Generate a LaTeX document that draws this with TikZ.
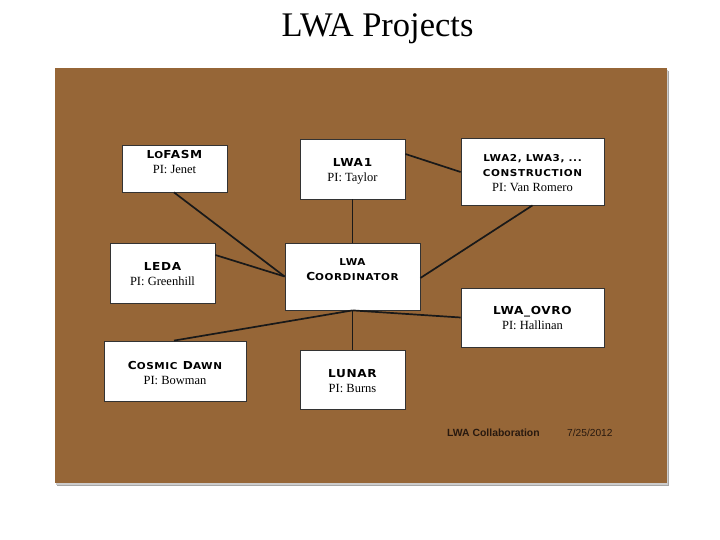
\documentclass[tikz,border=0pt]{standalone}
\usepackage{fontspec}
\setmainfont{Liberation Serif}
\newfontfamily\hdrfont{DejaVu Sans}[LetterSpace=6,FakeStretch=1.1]
\newfontfamily\footfont{Liberation Sans}
\newcommand{\bigc}[1]{{\fontsize{11}{13}\selectfont #1}}
\newcommand{\smc}[1]{{\fontsize{9.5}{11}\selectfont #1}}
\definecolor{bgbrown}{RGB}{150,102,55}
\definecolor{footc}{RGB}{40,25,15}
\begin{document}
\begin{tikzpicture}[x=1pt,y=-1pt,
  box/.style={draw=black!80,line width=0.8pt,fill=white,rectangle,inner sep=0pt},
  lbl/.style={align=center,inner sep=0pt,font=\fontsize{12.5}{15}\selectfont},
  conn/.style={line width=1.7pt,black!90}]
\useasboundingbox (0,0) rectangle (720,540);
\fill[white] (0,0) rectangle (720,540);
\node[font=\fontsize{34.5}{38}\selectfont,inner sep=0pt] (title) at (377.5,29) {LWA Projects};
% slide with shadow
\fill[black!35] (57,71) rectangle (669,486);
\fill[black!20] (56,70) rectangle (668,485);
\fill[bgbrown] (55,68) rectangle (667,483);
% boxes
\node[box,minimum width=105pt,minimum height=47pt] (lofasm) at (174.5,168.5) {};
\node[box,minimum width=105pt,minimum height=60pt] (lwa1) at (352.5,169) {};
\node[box,minimum width=143pt,minimum height=67pt] (lwa2) at (532.5,171.5) {};
\node[box,minimum width=105pt,minimum height=60pt] (leda) at (162.5,273) {};
\node[box,minimum width=135pt,minimum height=67pt] (coord) at (352.5,276.5) {};
\node[box,minimum width=143pt,minimum height=59pt] (ovro) at (532.5,317.5) {};
\node[box,minimum width=142pt,minimum height=60pt] (cosmic) at (175,371) {};
\node[box,minimum width=105pt,minimum height=59pt] (lunar) at (352.5,379.5) {};
% labels
\node[lbl] (tlofasm) at (174.5,162) {{\hdrfont\bfseries\bigc{L}\smc{O}\bigc{FASM}}\\[0pt]PI: Jenet};
\node[lbl] (tlwa1) at (352.5,171) {{\hdrfont\bfseries\bigc{LWA1}}\\[0pt]PI: Taylor};
\node[lbl] (tlwa2) at (532.5,173.5) {{\hdrfont\bfseries\smc{LWA2, LWA3, ...}}\\[0pt]{\hdrfont\bfseries\smc{CONSTRUCTION}}\\[0pt]PI: Van Romero};
\node[lbl] (tleda) at (162.5,274) {{\hdrfont\bfseries\bigc{LEDA}}\\[0pt]PI: Greenhill};
\node[lbl] (tcoord) at (352.5,270) {{\hdrfont\bfseries\smc{LWA}}\\[0pt]{\hdrfont\bfseries\bigc{C}\smc{OORDINATOR}}};
\node[lbl] (tovro) at (532.5,318) {{\hdrfont\bfseries\bigc{LWA\_OVRO}}\\[0pt]PI: Hallinan};
\node[lbl] (tcosmic) at (175,373.5) {{\hdrfont\bfseries\bigc{C}\smc{OSMIC} \bigc{D}\smc{AWN}}\\[0pt]PI: Bowman};
\node[lbl] (tlunar) at (352.5,381.5) {{\hdrfont\bfseries\bigc{LUNAR}}\\[0pt]PI: Burns};
% footer
\node[font=\footfont\bfseries\fontsize{10.4}{12}\selectfont,text=footc,anchor=west,inner sep=0pt] (collab) at (447,433) {LWA Collaboration};
\node[font=\footfont\fontsize{10.2}{12}\selectfont,text=footc,anchor=west,inner sep=0pt] (date) at (567,433) {7/25/2012};
% connectors
\coordinate (cl) at (coord.west);
\coordinate (cb) at (coord.south);
\draw[conn] ([xshift=-0.5pt]lofasm.south) -- (cl);
\draw[conn] ([yshift=18pt]leda.east) -- (cl);
\draw[conn] (lwa1.south) -- (coord.north);
\draw[conn] ([yshift=15pt]lwa1.east) -- ([yshift=-0.5pt]lwa2.west);
\draw[conn] (lwa2.south) -- ([yshift=-1.5pt]coord.east);
\draw[conn] (cb) -- (ovro.west);
\draw[conn] (cb) -- ([xshift=-1pt]cosmic.north);
\draw[conn] (cb) -- (lunar.north);
\end{tikzpicture}
\end{document}
